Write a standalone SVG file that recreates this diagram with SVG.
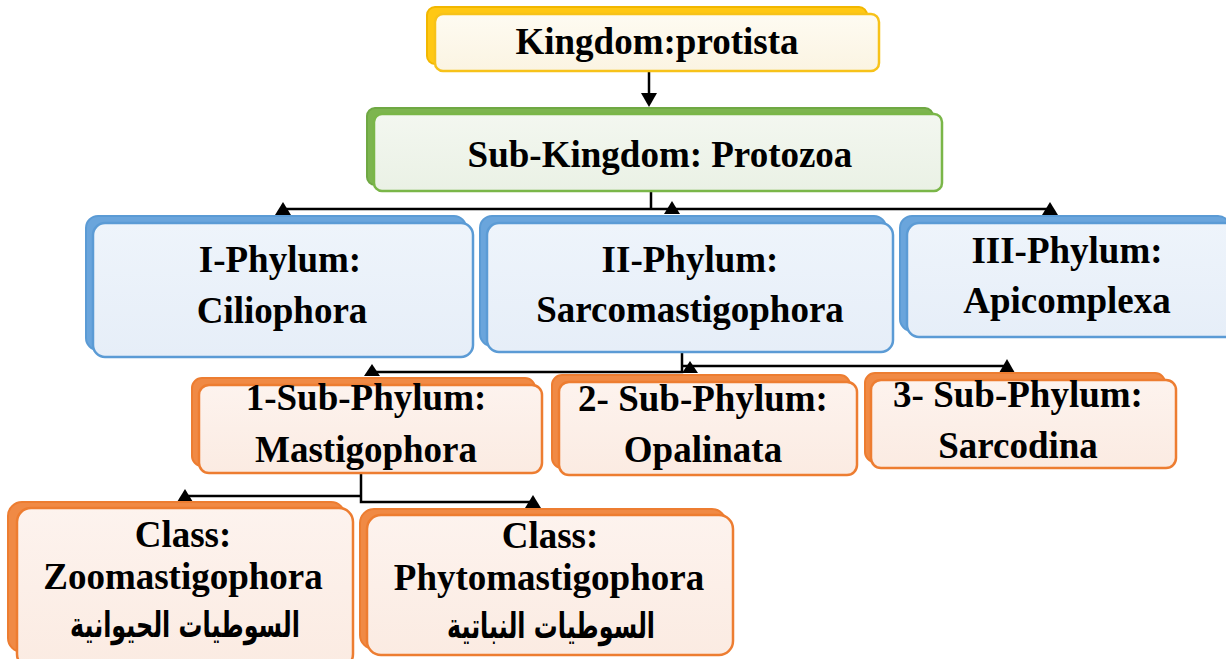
<svg xmlns="http://www.w3.org/2000/svg" width="1226" height="659" viewBox="0 0 1226 659">
<defs>
<linearGradient id="fy" x1="0" y1="0" x2="0" y2="1"><stop offset="0" stop-color="#fefbf2"/><stop offset="1" stop-color="#fbf4e2"/></linearGradient>
<linearGradient id="fg" x1="0" y1="0" x2="0" y2="1"><stop offset="0" stop-color="#f3f7f0"/><stop offset="1" stop-color="#eaf1e5"/></linearGradient>
<linearGradient id="fb" x1="0" y1="0" x2="0" y2="1"><stop offset="0" stop-color="#eef4fb"/><stop offset="1" stop-color="#e6eef8"/></linearGradient>
<linearGradient id="fo" x1="0" y1="0" x2="0" y2="1"><stop offset="0" stop-color="#fdf3ee"/><stop offset="1" stop-color="#fbebe2"/></linearGradient>
<style>
.by{fill:#ffc814;stroke:#f2b700;stroke-width:2}
.fy{fill:url(#fy);stroke:#f7c21a;stroke-width:2.5}
.bg{fill:#7db54f;stroke:#6fa843;stroke-width:2}
.fg{fill:url(#fg);stroke:#7ab648;stroke-width:2.5}
.bb{fill:#6aa5dc;stroke:#5b9bd5;stroke-width:2}
.fb{fill:url(#fb);stroke:#5b9bd5;stroke-width:2.5}
.bo{fill:#f08a45;stroke:#ed7d31;stroke-width:2}
.fo{fill:url(#fo);stroke:#ed7d31;stroke-width:2.5}
.t{font-family:"Liberation Serif","Times New Roman",serif;font-weight:bold;font-size:37px;fill:#000;text-anchor:middle}
.ar{font-family:"DejaVu Sans",sans-serif;font-weight:bold;font-size:35px;fill:#000;text-anchor:middle}
.c{fill:none;stroke:#000;stroke-width:2.5}
.h{fill:#000}
</style>
</defs>

<g id="connectors">
<path class="c" d="M649,71 V96"/>
<polygon class="h" points="641,93 657,93 649,107"/>
<path class="c" d="M651,191 V209 M283,209 H1050"/>
<polygon class="h" points="275,215 291,215 283,202"/>
<polygon class="h" points="664,214 680,214 672,201"/>
<polygon class="h" points="1042,215 1058,215 1050,202"/>
<path class="c" d="M682,352 V372 H372 M682,366 H1007"/>
<polygon class="h" points="364,376 380,376 372,364"/>
<polygon class="h" points="682,373 698,373 690,361"/>
<polygon class="h" points="999,373 1015,373 1007,359"/>
<path class="c" d="M361,473 V502 H533 M361,496 H185"/>
<polygon class="h" points="177,502 193,502 185,489"/>
<polygon class="h" points="525,508 541,508 533,495"/>
</g>

<g id="kingdom">
<rect class="by" x="427" y="7" width="440" height="57" rx="8"/>
<rect class="fy" x="435" y="14" width="444" height="57" rx="8"/>
<text class="t" x="657" y="54">Kingdom:protista</text>
</g>

<g id="subkingdom">
<rect class="bg" x="367" y="108" width="566" height="77" rx="8"/>
<rect class="fg" x="374" y="114" width="568" height="77" rx="8"/>
<text class="t" x="660" y="167">Sub-Kingdom: Protozoa</text>
</g>

<g id="phylum1">
<rect class="bb" x="86" y="216" width="380" height="134" rx="12"/>
<rect class="fb" x="93" y="223" width="380" height="134" rx="12"/>
<text class="t" x="280" y="272">I-Phylum:</text>
<text class="t" x="282" y="323">Ciliophora</text>
</g>

<g id="phylum2">
<rect class="bb" x="480" y="216" width="406" height="130" rx="12"/>
<rect class="fb" x="487" y="223" width="406" height="129" rx="12"/>
<text class="t" x="690" y="272">II-Phylum:</text>
<text class="t" x="690" y="322">Sarcomastigophora</text>
</g>

<g id="phylum3">
<rect class="bb" x="900" y="216" width="330" height="115" rx="12"/>
<rect class="fb" x="907" y="223" width="330" height="114" rx="12"/>
<text class="t" x="1067" y="263">III-Phylum:</text>
<text class="t" x="1067" y="313">Apicomplexa</text>
</g>

<g id="subphylum1">
<rect class="bo" x="192" y="378" width="343" height="88" rx="10"/>
<rect class="fo" x="199" y="385" width="343" height="88" rx="10"/>
<text class="t" x="366" y="410">1-Sub-Phylum:</text>
<text class="t" x="366" y="462">Mastigophora</text>
</g>

<g id="subphylum2">
<rect class="bo" x="552" y="375" width="298" height="93" rx="10"/>
<rect class="fo" x="559" y="382" width="298" height="93" rx="10"/>
<text class="t" x="703" y="411">2- Sub-Phylum:</text>
<text class="t" x="703" y="462">Opalinata</text>
</g>

<g id="subphylum3">
<rect class="bo" x="865" y="373" width="300" height="89" rx="10"/>
<rect class="fo" x="871" y="380" width="305" height="88" rx="10"/>
<text class="t" x="1018" y="407">3- Sub-Phylum:</text>
<text class="t" x="1018" y="458">Sarcodina</text>
</g>

<g id="class1">
<rect class="bo" x="8" y="502" width="337" height="150" rx="14"/>
<rect class="fo" x="17" y="508" width="336" height="160" rx="14"/>
<text class="t" x="183" y="547">Class:</text>
<text class="t" x="183" y="589">Zoomastigophora</text>
<text class="ar" x="185" y="637" textLength="230" lengthAdjust="spacingAndGlyphs">السوطيات الحيوانية</text>
</g>

<g id="class2">
<rect class="bo" x="360" y="509" width="366" height="140" rx="14"/>
<rect class="fo" x="367" y="515" width="366" height="140" rx="14"/>
<text class="t" x="550" y="548">Class:</text>
<text class="t" x="549" y="590">Phytomastigophora</text>
<text class="ar" x="551" y="638" textLength="208" lengthAdjust="spacingAndGlyphs">السوطيات النباتية</text>
</g>
</svg>
